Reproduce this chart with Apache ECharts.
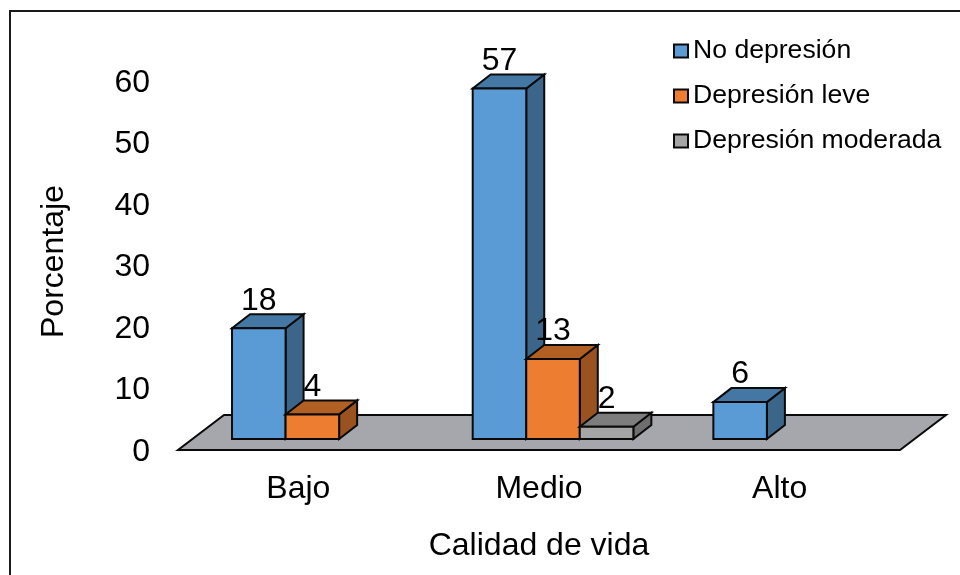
<!DOCTYPE html>
<html>
<head>
<meta charset="utf-8">
<style>html,body{margin:0;padding:0;background:#fff}#chart{width:960px;height:575px}</style>
<script src="https://cdn.jsdelivr.net/npm/echarts@6/dist/echarts.min.js"></script>
</head>
<body>
<div id="chart"></div>
<script>
const categories = ['Bajo', 'Medio', 'Alto'];
const noDepresion = [18, 57, 6];
const depresionLeve = [4, 13, null];
const depresionModerada = [null, 2, null];
const yTicks = [0, 10, 20, 30, 40, 50, 60];

const FONT = '"Liberation Sans", Arial, sans-serif';
const DEPTH_X = 18, DEPTH_Y = 14;   // oblique offset of the bar boxes
const FLOOR_X = 46, FLOOR_Y = 35;   // oblique offset of the floor plate
const LIFT = 11;                    // bars stand this far behind the floor's front edge
const BAR_RATIO = 0.2225;           // bar width as a share of a category band
const STROKE = '#0a0a0a';
const EDGE = 2;

const face = (pts, fill) => ({
  type: 'polygon',
  shape: { points: pts },
  style: { fill, stroke: STROKE, lineWidth: EDGE, lineJoin: 'miter' }
});

// Draws one box of the 3D column chart; slot is the bar's position within its group.
function boxRenderer(slot, front, top, side) {
  return function (params, api) {
    const idx = api.value(0), val = api.value(1);
    const band = api.size([1, 0])[0];
    const w = band * BAR_RATIO;
    const base = api.coord([idx, 0]);
    const peak = api.coord([idx, val]);
    const x0 = base[0] - band * 0.2755 + slot * w;
    const x1 = x0 + w;
    const y0 = base[1] - LIFT;
    const y1 = peak[1] - LIFT;
    return {
      type: 'group',
      children: [
        face([[x1, y0], [x1 + DEPTH_X, y0 - DEPTH_Y], [x1 + DEPTH_X, y1 - DEPTH_Y], [x1, y1]], side),
        face([[x0, y1], [x1, y1], [x1 + DEPTH_X, y1 - DEPTH_Y], [x0 + DEPTH_X, y1 - DEPTH_Y]], top),
        face([[x0, y0], [x1, y0], [x1, y1], [x0, y1]], front),
        {
          type: 'text',
          z2: 50,
          style: {
            text: String(val), x: (x0 + x1) / 2, y: y1 - 27.5,
            align: 'center', verticalAlign: 'middle',
            fontFamily: FONT, fontSize: 32, fill: '#000'
          }
        }
      ]
    };
  };
}

// The grey plate the columns stand on, spanning the whole category axis.
function floorRenderer(params) {
  const c = params.coordSys;
  const b = c.y + c.height;
  return {
    type: 'polygon',
    shape: { points: [[c.x, b], [c.x + c.width, b], [c.x + c.width + FLOOR_X, b - FLOOR_Y], [c.x + FLOOR_X, b - FLOOR_Y]] },
    style: { fill: '#a5a7ad', stroke: STROKE, lineWidth: EDGE }
  };
}

const toPairs = arr => arr.map((v, i) => [i, v]).filter(p => p[1] !== null);

function boxSeries(name, values, slot, front, top, side) {
  return {
    name, type: 'custom', clip: false, z: 3,
    renderItem: boxRenderer(slot, front, top, side),
    itemStyle: { color: front, borderColor: STROKE, borderWidth: EDGE },
    encode: { x: 0, y: 1 },
    data: toPairs(values)
  };
}

const chart = echarts.init(document.getElementById('chart'), null, { renderer: 'canvas' });
chart.setOption({
  animation: false,
  backgroundColor: '#fff',
  textStyle: { fontFamily: FONT },
  grid: { left: 178, top: 81, width: 722, height: 369, containLabel: false },
  legend: {
    orient: 'vertical', left: 673, top: 36, padding: 0,
    itemWidth: 14, itemHeight: 13, itemGap: 15, icon: 'rect',
    textStyle: { fontFamily: FONT, fontSize: 26.6, color: '#000', lineHeight: 30 },
    data: ['No depresión', 'Depresión leve', 'Depresión moderada'],
    itemStyle: { borderColor: STROKE, borderWidth: EDGE }
  },
  xAxis: {
    type: 'category', data: categories,
    axisLine: { show: false }, axisTick: { show: false },
    axisLabel: { fontSize: 32, color: '#000', margin: 23, fontFamily: FONT },
    name: 'Calidad de vida', nameLocation: 'middle', nameGap: 80,
    nameTextStyle: { fontSize: 32, color: '#000', fontFamily: FONT }
  },
  yAxis: {
    type: 'value', min: 0, max: 60, interval: 10,
    axisLine: { show: false }, axisTick: { show: false }, splitLine: { show: false },
    axisLabel: {
      margin: 28,
      customValues: yTicks,
      formatter: '{t|{value}}',
      rich: { t: { fontSize: 32, color: '#000', fontFamily: FONT, padding: [4, 0, 0, 0] } }
    },
    name: 'Porcentaje', nameLocation: 'middle', nameGap: 108, nameRotate: 90,
    nameTextStyle: { fontSize: 32, color: '#000', fontFamily: FONT, padding: [0, 0, 0, 8] }
  },
  graphic: [{
    type: 'polyline', silent: true,
    shape: { points: [[960, 11], [10, 11], [10, 575]] },
    style: { stroke: '#1a1a1a', lineWidth: 2, fill: null }
  }],
  series: [
    {
      type: 'custom', name: 'Base', z: 1, silent: true, clip: false,
      renderItem: floorRenderer, data: [[0, 0]], encode: { x: 0, y: 1 }
    },
    boxSeries('No depresión', noDepresion, 0, '#5b9bd5', '#4577a5', '#3c6689'),
    boxSeries('Depresión leve', depresionLeve, 1, '#ed7d31', '#b25f24', '#9a5320'),
    boxSeries('Depresión moderada', depresionModerada, 2, '#a5a5a5', '#7d7d7d', '#6e6e6e')
  ]
});
</script>
</body>
</html>
